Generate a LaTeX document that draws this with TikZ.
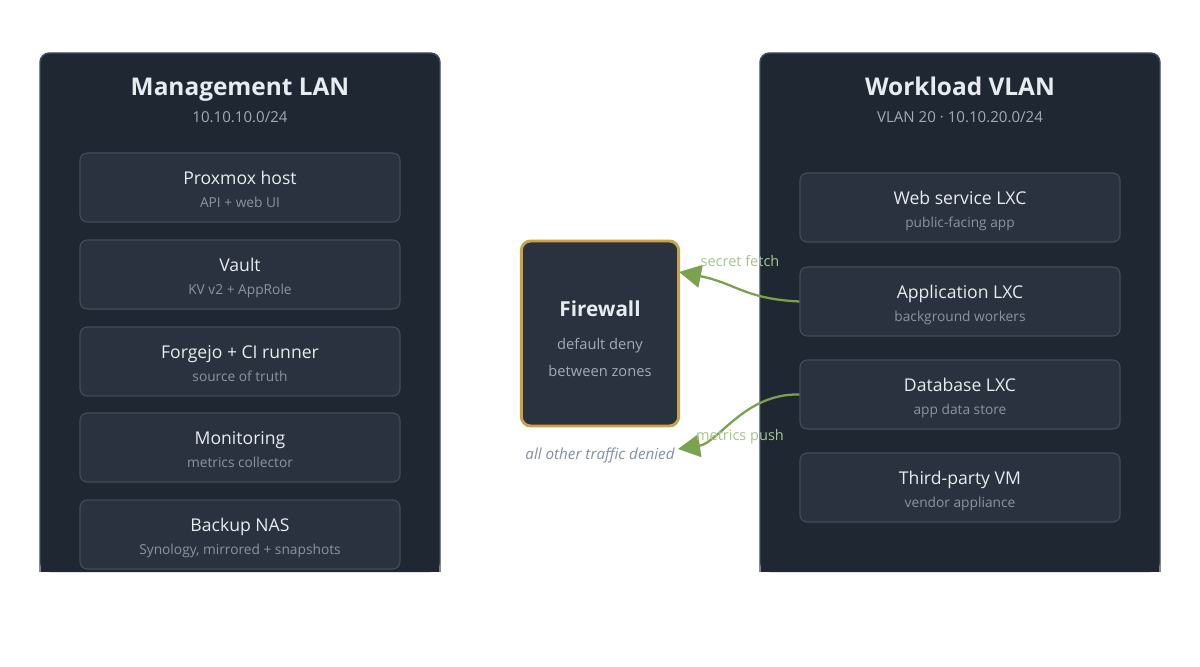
\documentclass[tikz,border=0pt]{standalone}
\usepackage{fontspec}
\setmainfont{Open Sans}
\usetikzlibrary{arrows.meta}
\definecolor{panelfill}{HTML}{1F2832}
\definecolor{panelline}{HTML}{3B4D63}
\definecolor{boxfill}{HTML}{29323E}
\definecolor{boxline}{HTML}{414D5D}
\definecolor{titletxt}{HTML}{E8ECF0}
\definecolor{subtxt}{HTML}{A3ACB6}
\definecolor{boxsub}{HTML}{8B95A0}
\definecolor{fwline}{HTML}{C9A24C}
\definecolor{edgegreen}{HTML}{7BA24F}
\definecolor{edgelabel}{HTML}{A8C48E}
\definecolor{denytxt}{HTML}{8391A4}
\tikzset{
  hostbox/.style={draw=boxline, fill=boxfill, line width=0.9pt, rounded corners=5.5pt,
    minimum width=240pt, minimum height=51.75pt, inner sep=0pt},
  hosttitle/.style={text=titletxt, font=\fontsize{13.2}{16}\selectfont, inner sep=0pt, anchor=base},
  hostsub/.style={text=boxsub, font=\fontsize{10.3}{12}\selectfont, inner sep=0pt, anchor=base},
  zonetitle/.style={text=titletxt, font=\fontsize{18.3}{22}\selectfont\bfseries, inner sep=0pt, anchor=base},
  zonesub/.style={text=subtxt, font=\fontsize{11.3}{14}\selectfont, inner sep=0pt, anchor=base},
  flow/.style={draw=edgegreen, line width=1.7pt, -{Triangle[length=16.5pt,width=17pt]}},
  flowlabel/.style={text=edgelabel, font=\fontsize{10.9}{12}\selectfont, inner sep=0pt, anchor=base},
}
\begin{document}
\begin{tikzpicture}[x=0.75pt,y=-0.75pt]
\useasboundingbox[fill=white] (0,0) rectangle (1200,667);
% zone panels
\fill[panelfill, rounded corners=7pt] (40,572) -- (40,53) -- (440,53) -- (440,572) -- cycle;
\draw[panelline, line width=1.1pt, rounded corners=7pt] (40,572) -- (40,53) -- (440,53) -- (440,572);
\fill[panelfill, rounded corners=7pt] (760,572) -- (760,53) -- (1160,53) -- (1160,572) -- cycle;
\draw[panelline, line width=1.1pt, rounded corners=7pt] (760,572) -- (760,53) -- (1160,53) -- (1160,572);
\fill[panelfill] (41,560) rectangle (439,572);
\fill[panelfill] (761,560) rectangle (1159,572);

\node[zonetitle] (mgmtT) at (240,95) {Management LAN};
\node[zonesub] (mgmtS) at (240,122.5) {10.10.10.0/24};
\node[zonetitle] (wlT) at (960,95) {Workload VLAN};
\node[zonesub] (wlS) at (960,122.5) {VLAN 20 · 10.10.20.0/24};

% management hosts
\foreach \n/\y/\t/\s in {prox/153/Proxmox host/API + web UI,
  vault/240/Vault/KV v2 + AppRole,
  forgejo/327/Forgejo + CI runner/source of truth,
  mon/413/Monitoring/metrics collector,
  nas/500/Backup NAS/{Synology, mirrored + snapshots}}{
  \node[hostbox] (\n) at (240,\y+34.5) {};
  \node[hosttitle] (\n T) at (240,\y+31) {\t};
  \node[hostsub] (\n S) at (240,\y+54.5) {\s};
}
% workload hosts
\foreach \n/\y/\t/\s in {web/173/Web service LXC/public-facing app,
  app/267/Application LXC/background workers,
  db/360/Database LXC/app data store,
  vm/453/Third-party VM/vendor appliance}{
  \node[hostbox] (\n) at (960,\y+34.5) {};
  \node[hosttitle] (\n T) at (960,\y+31) {\t};
  \node[hostsub] (\n S) at (960,\y+54.5) {\s};
}

% firewall
\node[draw=fwline, fill=boxfill, line width=2.2pt, rounded corners=7pt,
  minimum width=118pt, minimum height=138.75pt, inner sep=0pt] (fw) at (600,333.5) {};
\node[text=titletxt, font=\fontsize{15.5}{20}\selectfont\bfseries, inner sep=0pt, anchor=base] (fwT) at (600,316.5) {Firewall};
\node[text=subtxt, font=\fontsize{11}{14}\selectfont, inner sep=0pt, anchor=base] (fwS1) at (600,349) {default deny};
\node[text=subtxt, font=\fontsize{11}{14}\selectfont, inner sep=0pt, anchor=base] (fwS2) at (600,376) {between zones};

% flows
\coordinate (fetchEnd) at (679,272);
\coordinate (pushEnd) at (678,449);
\draw[flow] (app.west) .. controls (745,299) and (735,283) .. (fetchEnd);
\draw[flow] (db.west) .. controls (745,393) and (718,443) .. (pushEnd);
\node[flowlabel] (fetchL) at (740,266.5) {secret fetch};
\node[flowlabel] (pushL) at (740,440) {metrics push};
\node[text=denytxt, font=\fontsize{11.4}{13}\selectfont\itshape, inner sep=0pt, anchor=base] (deny) at (600,459) {all other traffic denied};
\end{tikzpicture}
\end{document}
